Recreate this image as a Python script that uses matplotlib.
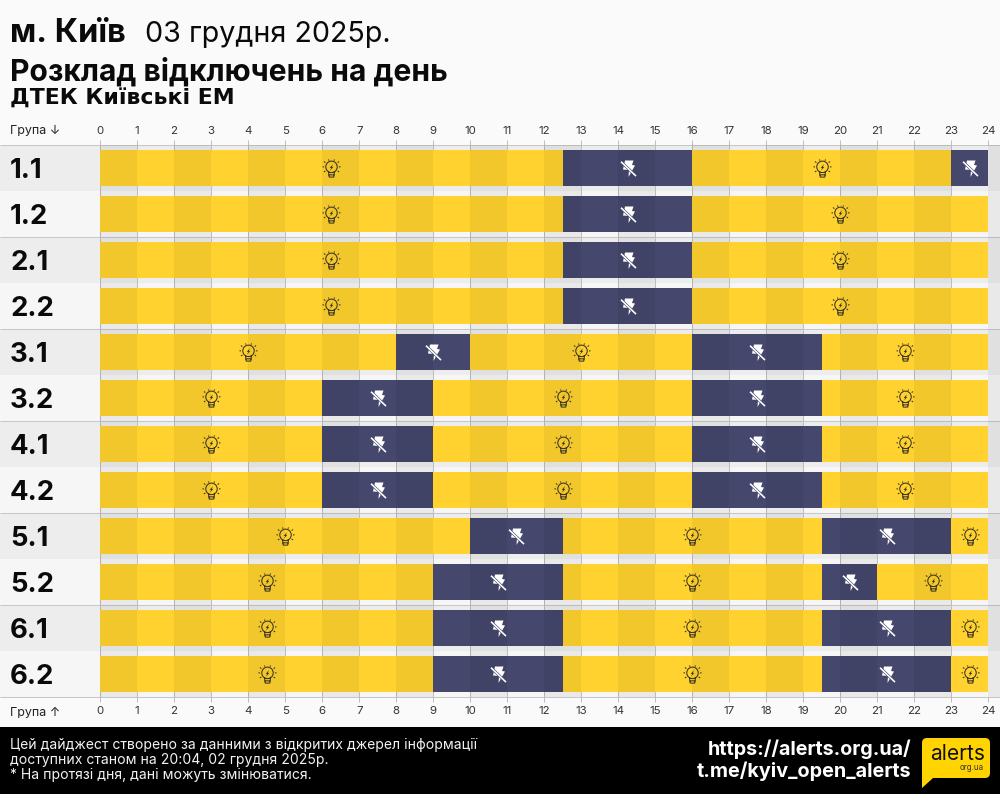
import matplotlib
matplotlib.use("Agg")
import matplotlib.pyplot as plt
from matplotlib.path import Path
from matplotlib.patches import PathPatch, Rectangle
from matplotlib.transforms import blended_transform_factory

groups = ["1.1","1.2","2.1","2.2","3.1","3.2","4.1","4.2","5.1","5.2","6.1","6.2"]
outages = [
    [(12.5,16),(23,24)],
    [(12.5,16)],
    [(12.5,16)],
    [(12.5,16)],
    [(8,10),(16,19.5)],
    [(6,9),(16,19.5)],
    [(6,9),(16,19.5)],
    [(6,9),(16,19.5)],
    [(10,12.5),(19.5,23)],
    [(9,12.5),(19.5,21)],
    [(9,12.5),(19.5,23)],
    [(9,12.5),(19.5,23)],
]
hours = list(range(25))
title_city = "м. Київ"
title_date = "03 грудня 2025р."
title_main = "Розклад відключень на день"
title_sub = "ДТЕК Київські ЕМ"
foot_lines = ["Цей дайджест створено за данними з відкритих джерел інформації",
              "доступних станом на 20:04, 02 грудня 2025р.",
              "* На протязі дня, дані можуть змінюватися."]
links = ["https://alerts.org.ua/", "t.me/kyiv_open_alerts"]

W, H = 1000, 794
YEL, NAVY = "#FFD22F", "#45476C"
plt.rcParams['font.family'] = ['Inter', 'DejaVu Sans']
px = 0.72
fig = plt.figure(figsize=(W/100, H/100), dpi=100, facecolor="#FAFAFA")
L, R, T, B = 100, 988.5, 145, 697
ax = fig.add_axes([L/W, 1-B/H, (R-L)/W, (B-T)/H])
ax.patch.set_alpha(0)
for s in ax.spines.values():
    s.set_visible(False)
hpx = (R-L)/24
xl = -L/hpx; xr = 24 + (W-R)/hpx

# Row bands
for i, g in enumerate(groups):
    ax.barh(i+.5, xr-xl, left=xl, height=1, color="#EDEDED" if i % 2 == 0 else "#F6F6F6", lw=0, zorder=.1, clip_on=False)
    ax.text(10/W, i+.5, g, transform=blended_transform_factory(fig.transFigure, ax.transData),
            fontsize=27.5*px, fontweight="bold", color="#0A0A0A", va="center_baseline", ha="left")
ax.hlines(range(0, 13, 2), xl, xr, color="#C6C6C6", lw=1*px, zorder=1, clip_on=False)
ax.vlines(hours, 0, 12, color="#BDBDBD", lw=1*px, zorder=.6)

# Icons as markers
def bulb():
    v, c = [], []
    def seg(pts):
        for j, p in enumerate(pts):
            v.append(p); c.append(Path.MOVETO if j == 0 else Path.LINETO)
    circ = Path.circle((0, 1.6), 5.6)
    for p, k in zip(circ.vertices, circ.codes):
        v.append(tuple(p)); c.append(k)
    seg([(-2.8,-3.2),(-2.6,-6.2),(2.6,-6.2),(2.8,-3.2)])
    seg([(-2.6,-6.2),(-2.2,-8.4),(2.2,-8.4),(2.6,-6.2)])
    for a, b in [((-8.8,1.6),(-7.3,1.6)),((8.8,1.6),(7.3,1.6)),((-7.4,6.8),(-6.0,5.8)),((7.4,6.8),(6.0,5.8)),
                 ((-7.4,-3.4),(-6.0,-2.4)),((7.4,-3.4),(6.0,-2.4)),((-3.0,8.8),(-2.4,7.7)),((3.0,8.8),(2.4,7.7))]:
        seg([a, b])
    return Path(v, c)
def poly(pts):
    vs = [(-9,-9),(9,9)] + pts + [pts[0]]
    cs = [Path.MOVETO, Path.MOVETO, Path.MOVETO] + [Path.LINETO]*(len(pts)-1) + [Path.CLOSEPOLY]
    return Path(vs, cs)
BOLT_S = poly([(1.5,4.4),(-1.8,0.6),(-0.3,0.6),(-1.5,-2.2),(1.8,1.6),(0.3,1.6)])
BULB = bulb()
FLASH = poly([(-3.5,8),(5,8),(3.5,3.5),(6.5,3),(0,-8.5),(0.5,-1.5),(-5.5,-1)])
SLASH = Path([(-9,-9),(9,9),(-7.5,6.8),(7.5,-7.6)], [Path.MOVETO,Path.MOVETO,Path.MOVETO,Path.LINETO])
MS = 18*px

# Bars
for i, outs in enumerate(outages):
    y = i+.5
    h = 36/46
    ons, cur = [], 0
    for a, b in outs:
        if a > cur: ons.append((cur, a))
        cur = b
    if cur < 24: ons.append((cur, 24))
    ax.barh([y]*len(ons), [b-a for a, b in ons], left=[a for a, b in ons], height=h, color=YEL, lw=0, zorder=2)
    ax.barh([y]*len(outs), [b-a for a, b in outs], left=[a for a, b in outs], height=h, color=NAVY, lw=0, zorder=2)
    for a, b in ons:
        m = (a+b)/2
        ax.plot([m],[y], marker=BULB, ms=MS, mfc="none", mec="#3A3420", mew=1.05*px, ls="", zorder=5)
        ax.plot([m],[y], marker=BOLT_S, ms=MS, mfc="#3A3420", mec="none", ls="", zorder=5)
    for a, b in outs:
        m = (a+b)/2
        ax.plot([m],[y], marker=FLASH, ms=MS, mfc="white", mec="none", ls="", zorder=5)
        ax.plot([m],[y], marker=SLASH, ms=MS, mfc="none", mec=NAVY, mew=2.8*px, ls="", zorder=5.1)
        ax.plot([m],[y], marker=SLASH, ms=MS, mfc="none", mec="white", mew=1.6*px, ls="", zorder=5.2)

# Even hour stripes
for h0 in hours[::2]:
    ax.bar(h0, 12, width=min(1, xr-h0), align="edge", bottom=0, color="black", alpha=.05, lw=0, zorder=3, clip_on=False)

ax.set_xlim(0, 24); ax.set_ylim(12, 0)
ax.set_xticks(hours)
ax.set_xticklabels(hours)
ax.set_yticks([])
ax.tick_params(axis="x", top=True, bottom=True, labeltop=True, labelbottom=True, length=3.6, width=1*px,
               color="#BDBDBD", labelsize=11.5*px, labelcolor="#333333", pad=3)

def t(x, y, s, size, w="normal", c="#0A0A0A", ha="left", **kw):
    return fig.text(x/W, 1-y/H, s, fontsize=size*px, fontweight=w, color=c, ha=ha, va="baseline", **kw)

t(10, 42, title_city, 32.5, "bold")
t(145, 42, title_date, 28.7)
t(10, 81, title_main, 30, "bold")
t(10, 105, title_sub, 22, "bold", family="DejaVu Sans")
t(10, 134, "Група ↓", 12.5, c="#222222")
t(10, 716, "Група ↑", 12.5, c="#222222")

fig.add_artist(Rectangle((0, 0), 1, 1-727/H, transform=fig.transFigure, color="black", lw=0))
for y, s in zip([749, 764, 779], foot_lines):
    t(10, y, s, 14, c="#F2F2F2")
t(911, 755, links[0], 19.7, "bold", c="white", ha="right")
t(911, 777, links[1], 19.8, "bold", c="white", ha="right")

def P(x, y): return (x/W, 1-y/H)
verts = [P(927,738),P(985,738),P(990,738),P(990,743),P(990,773),P(990,778),P(985,778),P(933,778),P(922,788),P(922,743),P(922,738),P(927,738),P(927,738)]
codes = [Path.MOVETO,Path.LINETO,Path.CURVE3,Path.CURVE3,Path.LINETO,Path.CURVE3,Path.CURVE3,Path.LINETO,Path.LINETO,Path.LINETO,Path.CURVE3,Path.CURVE3,Path.CLOSEPOLY]
fig.add_artist(PathPatch(Path(verts, codes), transform=fig.transFigure, fc="#FFD400", ec="none"))
t(985, 760, "alerts", 21, c="#111111", ha="right")
t(984, 770, "org.ua", 8, c="#333333", ha="right")

fig.savefig("out.png", dpi=100, facecolor=fig.get_facecolor())
